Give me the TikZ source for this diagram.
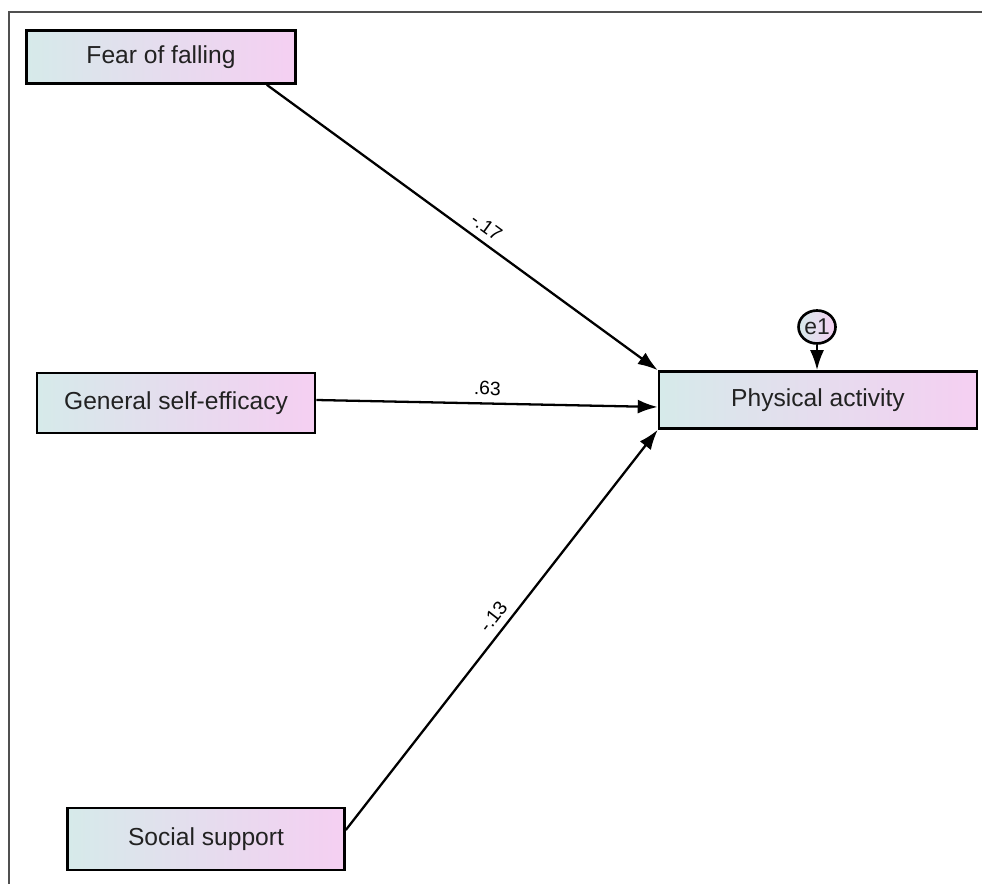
\documentclass[tikz,border=0pt]{standalone}
\usepackage{fontspec}
\setmainfont{Liberation Sans}
\usepackage{tikz}
\usetikzlibrary{arrows.meta,shapes.geometric}
\definecolor{boxleft}{HTML}{D6EAEA}
\definecolor{boxright}{HTML}{F5CFF2}
\definecolor{frame}{HTML}{505050}
\definecolor{ink}{HTML}{222222}
\tikzset{%
    >={Latex[length=4mm,width=2.8mm]},
    var/.style={draw, line width=1.5pt, left color=boxleft, right color=boxright,
        inner sep=0pt, text=ink, font=\fontsize{14}{16}\selectfont},
    err/.style={ellipse, draw, line width=1.5pt, left color=boxleft, right color=boxright,
        minimum width=0.74cm, minimum height=0.66cm, inner sep=0pt, text=ink,
        font=\fontsize{13}{15}\selectfont},
    coef/.style={font=\fontsize{11}{13}\selectfont, sloped, above, inner sep=4pt}
}
\begin{document}
\begin{tikzpicture}[x=0.02cm, y=-0.02cm, line width=1.3pt]
  \useasboundingbox (0,0) rectangle (982,884);
  \draw[frame, line width=1.2pt] (9,884) -- (9,12) -- (982,12);

  \node[var, minimum width=5.38cm, minimum height=1.06cm] (fear) at (161,57) {Fear of falling};
  \node[var, minimum width=5.56cm, minimum height=1.2cm] (gse) at (176,403) {General self-efficacy};
  \node[var, minimum width=5.54cm, minimum height=1.24cm] (social) at (206,839) {Social support};
  \node[var, minimum width=6.36cm, minimum height=1.14cm] (pa) at (818,400) {Physical activity};
  \node[err] (e1) at (817,327) {e1};

  \draw[->] ([xshift=-0.6cm]fear.south east) -- (pa.north west) node[coef, pos=0.54] {-.17};
  \draw[->] ([yshift=0.06cm]gse.east) -- ([yshift=-0.14cm]pa.west) node[coef, pos=0.5] {.63};
  \draw[->] ([yshift=0.18cm]social.east) -- (pa.south west) node[coef, pos=0.51] {-.13};
  \draw[->] (e1.south) -- (e1.south |- pa.north);
\end{tikzpicture}
\end{document}
